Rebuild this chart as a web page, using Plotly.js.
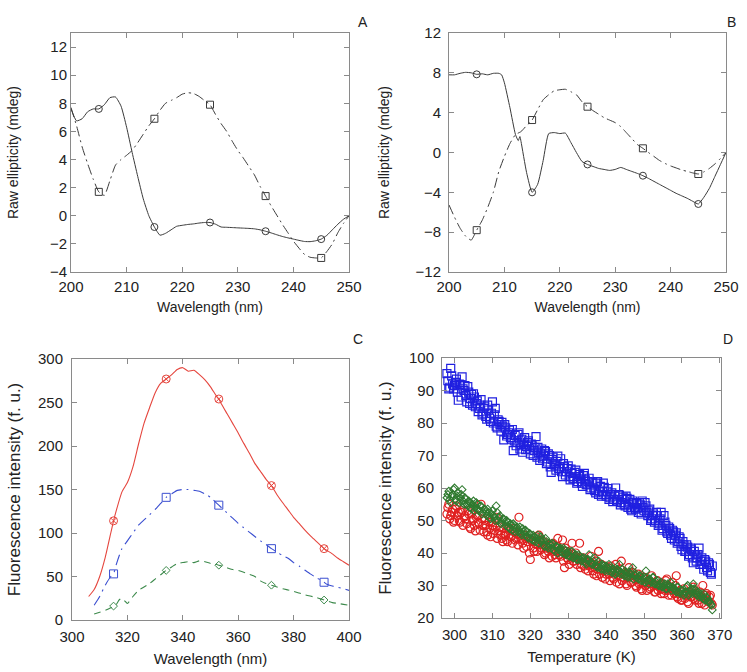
<!DOCTYPE html>
<html>
<head>
<meta charset="utf-8">
<script src="https://cdn.plot.ly/plotly-3.0.1.min.js"></script>
<style>html,body{margin:0;padding:0;background:#fff;}#chart{width:747px;height:672px;}</style>
</head>
<body>
<div id="chart"></div>
<script>
// ---------- Panel A (CD spectra) ----------
const wlA = [200,201,202,203,204,205,206,207,208,209,210,211,212,213,214,215,216,217,218,219,220,221,222,223,224,225,226,227,228,229,230,231,232,233,234,235,236,237,238,239,240,241,242,243,244,245,246,247,248,249,250];
const A_solid = [7.6,6.75,6.9,7.4,7.6,7.6,7.9,8.4,8.45,7.8,6.3,4.5,2.8,1.2,0.0,-0.8,-1.38,-1.25,-1.0,-0.75,-0.68,-0.62,-0.58,-0.52,-0.48,-0.48,-0.6,-0.8,-0.82,-0.84,-0.86,-0.88,-0.9,-0.93,-1.0,-1.1,-1.22,-1.35,-1.47,-1.57,-1.66,-1.75,-1.83,-1.84,-1.78,-1.66,-1.4,-1.0,-0.6,-0.25,0.0];
const A_dash = [7.7,6.4,4.9,3.7,2.6,1.7,1.45,2.5,3.6,4.0,4.3,4.65,5.2,5.8,6.4,6.9,7.5,8.0,8.2,8.4,8.65,8.75,8.7,8.5,8.2,7.9,7.2,6.55,6.0,5.3,4.65,4.1,3.5,2.9,2.1,1.4,0.7,0.05,-0.6,-1.2,-1.8,-2.3,-2.75,-2.95,-3.0,-3.0,-2.55,-2.0,-1.2,-0.55,0.0];
const markCD = [205,215,225,235,245];

// ---------- Panel B (CD spectra) ----------
const wlB_solid = [200,201,202,203,204,205,206,207,208,209,209.5,210,211,212,212.5,212.8,213,214,215,216,217,218,219,220,221,222,223,224,225,226,227,228,229,230,231,232,233,234,235,236,237,238,239,240,241,242,243,244,245,246,247,248,249,250];
const B_solid = [7.8,7.8,7.95,8.05,8.0,7.85,7.9,7.8,7.95,7.95,7.8,7.0,4.5,1.8,1.2,1.6,1.1,-2.0,-4.0,-3.2,-0.8,1.9,2.0,1.9,1.95,1.0,0.0,-0.9,-1.2,-1.4,-1.6,-1.7,-1.8,-1.7,-1.5,-1.7,-1.9,-2.1,-2.33,-2.6,-2.9,-3.2,-3.5,-3.8,-4.1,-4.35,-4.6,-4.9,-5.17,-4.5,-3.6,-2.4,-1.2,0.0];
const wlB_dash = [200,201,202,203,204,205,206,207,208,209,210,211,212,213,214,215,216,217,218,219,220,221,222,223,224,225,226,227,228,229,230,231,232,233,234,235,236,237,238,239,240,241,242,243,244,245,246,247,248,249,250];
const B_dash = [-5.27,-6.5,-7.6,-8.4,-8.8,-7.8,-6.8,-5.5,-4.0,-1.9,-0.4,0.9,1.8,2.1,2.7,3.26,4.3,5.3,5.8,6.2,6.3,6.35,6.1,5.8,5.1,4.6,4.2,3.85,3.5,3.25,3.0,2.6,2.0,1.4,0.8,0.42,0.0,-0.4,-0.8,-1.1,-1.35,-1.55,-1.75,-1.9,-2.05,-2.16,-1.95,-1.6,-1.15,-0.6,0.0];

// ---------- Panel C (emission spectra) ----------
const wlC_red = [306,308,310,312,314,315,316,318,320,322,324,326,328,330,332,334,336,338,340,342,344,346,348,350,352,353,354,356,358,360,362,364,366,368,370,372,374,376,378,380,382,384,386,388,390,391,392,394,396,398,400];
const C_red = [27,35,50,72,100,114,126,147,158,176,202,226,244,261,272,277,282,288,290,286,287,282,276,268,258,254,248,237,226,215,203,192,180,171,162,154.5,144,135,126.6,118,111,103.6,97,91,85,82,80,76,71,67,63];
const wlC_blue = [308,310,312,314,315,316,318,320,322,324,326,328,330,332,334,336,338,340,342,344,346,348,350,352,353,354,356,358,360,362,364,366,368,370,372,374,376,378,380,382,384,386,388,390,391,392,394,396,398,400];
const C_blue = [17,27,40,50,53,64,82,91,100,109,115,121,127,134,141,145,149,150,150,149,148,145,141,135,132,129,123,117,111,106,101,96,91,87,82,78,74,71,66,62,57.5,53,49,45.5,43.4,41,39,37.6,36,34];
const wlC_green = [308,310,312,314,315,316,317,318,319,320,322,324,326,328,330,332,334,336,338,340,342,344,346,348,350,352,353,354,356,358,360,362,364,366,368,370,372,374,376,378,380,382,384,386,388,390,391,392,394,396,398,400];
const C_green = [7,9,11,14,16,18,23,25,22,19,27,34,38,42,47,52,57,61,65,66,67,66,68,67,65,64,63,62,60,58,57,55,52.5,50,45,42,40,38,36,34.5,33,31,29,27.5,26,24,23,22,20,19,18,17];
const markC = [315,334,353,372,391];

// ---------- Panel D (thermal scans) ----------
const tempD = [
298,298.5,299,299.5,300,300.5,301,301.5,302,302.5,
303,303.5,304,304.5,305,305.5,306,306.5,307,307.5,
308,308.5,309,309.5,310,310.5,311,311.5,312,312.5,
313,313.5,314,314.5,315,315.5,316,316.5,317,317.5,
318,318.5,319,319.5,320,320.5,321,321.5,322,322.5,
323,323.5,324,324.5,325,325.5,326,326.5,327,327.5,
328,328.5,329,329.5,330,330.5,331,331.5,332,332.5,
333,333.5,334,334.5,335,335.5,336,336.5,337,337.5,
338,338.5,339,339.5,340,340.5,341,341.5,342,342.5,
343,343.5,344,344.5,345,345.5,346,346.5,347,347.5,
348,348.5,349,349.5,350,350.5,351,351.5,352,352.5,
353,353.5,354,354.5,355,355.5,356,356.5,357,357.5,
358,358.5,359,359.5,360,360.5,361,361.5,362,362.5,
363,363.5,364,364.5,365,365.5,366,366.5,367,367.5,
368];
const tempD2 = [
298.25,298.75,299.25,299.75,300.25,300.75,301.25,301.75,302.25,302.75,
303.25,303.75,304.25,304.75,305.25,305.75,306.25,306.75,307.25,307.75,
308.25,308.75,309.25,309.75,310.25,310.75,311.25,311.75,312.25,312.75,
313.25,313.75,314.25,314.75,315.25,315.75,316.25,316.75,317.25,317.75,
318.25,318.75,319.25,319.75,320.25,320.75,321.25,321.75,322.25,322.75,
323.25,323.75,324.25,324.75,325.25,325.75,326.25,326.75,327.25,327.75,
328.25,328.75,329.25,329.75,330.25,330.75,331.25,331.75,332.25,332.75,
333.25,333.75,334.25,334.75,335.25,335.75,336.25,336.75,337.25,337.75,
338.25,338.75,339.25,339.75,340.25,340.75,341.25,341.75,342.25,342.75,
343.25,343.75,344.25,344.75,345.25,345.75,346.25,346.75,347.25,347.75,
348.25,348.75,349.25,349.75,350.25,350.75,351.25,351.75,352.25,352.75,
353.25,353.75,354.25,354.75,355.25,355.75,356.25,356.75,357.25,357.75,
358.25,358.75,359.25,359.75,360.25,360.75,361.25,361.75,362.25,362.75,
363.25,363.75,364.25,364.75,365.25,365.75,366.25,366.75,367.25,367.75];
const D_blue = [
95.2,90.5,96.8,92.0,91.5,93.5,87.0,91.8,94.2,90.0,
88.5,91.2,86.0,88.8,89.0,85.0,86.8,84.5,87.2,83.0,
85.0,81.2,84.0,80.5,86.5,82.5,79.0,81.0,79.5,80.2,
74.8,78.5,76.5,77.8,75.0,71.5,76.2,74.0,77.0,73.5,
71.0,75.5,72.8,74.5,70.5,73.0,71.5,75.8,72.5,68.5,
72.0,69.8,71.2,68.0,70.0,64.8,69.5,67.0,68.2,66.0,
69.0,63.5,66.5,65.0,66.8,62.5,64.5,63.0,65.5,62.0,
64.2,61.5,63.8,62.5,61.0,63.0,60.0,61.8,59.2,61.5,
58.0,60.5,58.8,60.2,57.5,59.8,57.0,58.5,56.5,60.0,
56.0,57.8,55.5,57.2,54.5,56.8,55.0,53.5,56.0,54.0,
55.2,52.5,54.8,56.0,53.0,54.5,51.5,53.5,50.5,52.0,
50.0,51.5,49.0,52.5,47.5,49.5,46.5,48.0,45.5,47.0,
44.0,46.2,43.5,44.5,41.0,42.5,40.5,41.8,39.5,41.0,
37.0,39.5,38.5,41.5,37.5,36.5,38.0,35.5,37.0,34.0,
36.0];
const D_blue2 = [
93.0,91.0,94.5,90.5,92.5,89.5,92.0,88.0,90.5,91.5,
86.5,89.5,87.5,85.5,88.0,86.0,83.5,85.5,82.5,84.5,
82.0,85.5,81.5,83.0,80.0,84.5,78.5,80.5,77.5,79.0,
79.5,76.0,77.0,75.5,78.0,74.5,73.0,76.5,72.0,75.0,
73.5,71.8,74.0,72.0,73.5,70.0,72.5,69.5,71.0,70.5,
69.0,71.5,67.5,70.5,66.5,68.8,67.5,65.5,69.8,66.5,
65.0,67.5,64.0,66.0,63.5,65.8,62.8,64.8,61.5,63.5,
62.8,60.5,64.5,61.0,62.0,59.5,61.5,60.0,58.5,62.0,
59.0,57.5,61.5,58.0,59.0,56.5,58.0,55.8,57.5,56.0,
58.0,54.8,56.5,55.0,57.5,54.0,56.5,53.0,55.5,53.5,
53.8,55.5,52.0,54.0,55.5,52.5,53.0,50.0,51.5,49.5,
52.5,48.5,50.5,47.0,51.5,48.5,46.0,47.5,44.5,46.5,
45.5,43.0,45.0,42.0,43.5,40.5,42.5,39.0,41.5,38.5,
40.5,37.5,39.5,36.5,38.5,35.0,37.5,34.5,36.5,33.5];
const D_red = [
52.0,55.0,51.5,53.5,50.0,54.5,52.5,49.5,53.0,51.0,
50.5,53.0,48.0,52.0,50.5,46.8,51.5,49.0,55.0,48.5,
50.0,46.5,49.5,45.0,48.5,47.0,51.0,46.0,48.0,44.5,
47.5,45.5,43.5,46.8,45.0,47.5,44.0,45.8,51.0,44.5,
43.0,45.5,42.0,44.5,38.0,43.5,40.5,45.0,42.5,44.0,
41.5,43.5,40.0,42.5,38.5,41.0,43.0,39.5,42.0,40.5,
39.0,44.0,35.5,40.5,38.0,39.5,43.0,37.5,40.0,38.5,
43.0,36.5,38.5,35.0,37.0,36.0,39.0,34.5,36.5,33.0,
40.5,35.0,32.5,36.0,33.5,35.5,31.5,34.0,32.0,36.5,
34.0,30.5,37.5,32.5,33.5,30.0,35.5,31.0,34.0,32.0,
29.5,33.5,31.0,28.5,32.5,30.0,31.5,29.0,33.0,30.5,
28.0,31.5,29.5,27.5,30.5,28.5,32.0,27.0,29.5,31.0,
27.5,33.0,26.0,28.5,25.5,29.0,27.0,25.0,28.0,26.5,
29.5,25.5,27.0,24.5,26.5,30.0,24.0,27.5,25.0,27.0,
24.0];
const D_red2 = [
54.0,50.5,52.5,49.5,53.5,51.5,50.0,52.5,48.5,51.5,
49.0,52.0,47.5,50.0,48.5,51.0,49.5,47.0,50.5,46.5,
48.5,45.5,47.5,49.5,46.0,48.0,44.5,47.0,45.5,43.5,
46.0,44.0,47.5,45.0,43.0,46.5,44.5,42.5,45.5,44.0,
41.5,44.5,43.5,40.0,44.0,41.5,43.0,40.5,45.5,41.0,
42.5,39.5,41.5,40.5,42.5,39.0,40.5,38.5,44.5,39.5,
40.5,37.5,41.5,38.5,36.5,40.0,37.5,39.0,36.5,38.0,
35.5,38.0,36.0,37.5,34.5,36.5,35.5,33.5,37.5,35.0,
33.5,36.5,34.5,32.0,35.0,33.5,36.0,32.5,34.5,31.0,
33.0,35.0,31.5,33.5,30.5,32.5,34.0,31.0,33.0,30.0,
32.0,30.5,29.0,32.5,30.0,28.5,31.5,29.5,30.5,28.0,
30.0,28.5,30.5,29.0,27.5,31.5,28.5,29.5,27.0,28.5,
30.0,26.5,27.5,25.5,28.0,26.0,27.5,24.5,26.5,28.5,
26.0,27.5,25.5,28.0,24.5,26.0,27.0,25.5,26.5,24.5];
const D_green = [
57.0,59.0,55.5,58.0,60.0,56.0,58.5,57.0,59.5,55.0,
56.5,54.5,55.5,53.5,56.0,54.0,55.0,53.0,54.5,52.5,
53.5,51.5,52.5,50.5,53.0,51.0,54.5,50.0,51.5,49.5,
50.5,48.5,49.5,47.5,48.5,49.0,46.5,48.0,47.0,46.0,
47.5,45.5,46.5,44.5,45.8,44.0,45.0,43.5,45.5,44.0,
43.5,42.5,44.5,42.0,43.0,41.5,42.8,40.5,42.0,41.0,
41.5,40.0,41.0,39.5,40.5,39.0,40.5,38.5,39.5,38.0,
39.0,37.5,38.5,37.0,38.0,39.5,37.0,36.5,38.5,36.0,
37.5,35.5,36.5,35.0,36.0,34.5,35.5,34.0,35.0,33.5,
35.0,36.5,34.0,33.5,34.5,33.0,34.0,32.5,35.5,33.0,
33.5,32.0,33.0,31.5,32.5,34.5,31.5,32.0,31.0,32.5,
30.5,31.5,30.0,31.0,29.5,30.5,29.0,30.0,31.0,29.5,
29.0,28.0,29.5,27.5,28.5,27.0,28.0,30.0,27.5,29.0,
30.5,28.5,27.0,26.5,27.5,26.0,25.5,26.5,25.0,24.5,
22.5];
const D_green2 = [
58.0,56.5,57.5,59.5,56.5,57.5,55.5,58.0,56.0,57.0,
55.0,56.0,54.0,55.0,53.0,55.5,53.5,54.5,52.0,53.5,
52.5,53.5,51.0,52.0,51.5,50.0,52.5,51.0,49.0,50.5,
49.5,50.0,48.0,49.0,47.0,48.5,47.5,46.5,48.0,45.5,
46.5,47.0,45.0,46.0,44.5,45.5,43.5,44.5,43.0,45.0,
44.0,42.0,43.5,41.5,42.5,43.0,41.0,42.0,40.0,41.5,
40.5,41.5,39.5,40.0,39.0,40.5,38.5,39.0,38.0,39.5,
38.0,38.5,37.5,36.5,38.0,37.0,36.5,37.5,36.0,35.5,
36.5,35.0,36.0,34.5,35.5,36.5,34.5,35.0,33.5,34.0,
34.5,33.5,35.0,33.0,34.0,32.5,33.5,34.5,32.0,33.0,
32.5,33.0,31.5,32.0,31.0,32.5,30.5,31.5,32.5,30.5,
31.0,30.0,30.5,29.5,30.0,29.0,30.5,29.5,28.5,29.0,
28.5,29.5,28.0,28.5,27.5,28.0,29.5,27.0,28.5,27.5,
29.0,27.5,28.0,27.0,26.5,27.5,25.5,26.0,25.0,24.0];

// ---------- helpers ----------
function pick(xs, ys, marks) {
  const out = [];
  marks.forEach(m => { const i = xs.indexOf(m); if (i >= 0) out.push(ys[i]); });
  return out;
}
const FONT = 'Liberation Sans, Arial, sans-serif';
const TXT = '#222222';
const FRAME = '#8a8a8a';

function lineTrace(x, y, xa, ya, color, dash, width) {
  return {x: x, y: y, xaxis: xa, yaxis: ya, type: 'scatter', mode: 'lines',
    line: {color: color, dash: dash, width: width, shape: 'spline', smoothing: 0.5},
    hoverinfo: 'skip', showlegend: false};
}
function markTrace(xs, ys, marks, xa, ya, color, symbol, size) {
  return {x: marks, y: pick(xs, ys, marks), xaxis: xa, yaxis: ya, type: 'scatter', mode: 'markers',
    marker: {symbol: symbol, size: size, color: color, line: {color: color, width: 1}},
    hoverinfo: 'skip', showlegend: false};
}
function cloud(xa, ya, xb, yb, color, symbol, size, lw) {
  return {x: xa.concat(xb), y: ya.concat(yb), xaxis: 'x4', yaxis: 'y4', type: 'scatter', mode: 'markers',
    marker: {symbol: symbol, size: size, color: color, line: {color: color, width: lw}},
    hoverinfo: 'skip', showlegend: false};
}

const cdCol = '#3a3a3a';
const traces = [
  lineTrace(wlA, A_solid, 'x', 'y', cdCol, 'solid', 1),
  lineTrace(wlA, A_dash, 'x', 'y', cdCol, '10px,4px,2px,4px', 1),
  markTrace(wlA, A_solid, markCD, 'x', 'y', cdCol, 'circle-open', 7),
  markTrace(wlA, A_dash, markCD, 'x', 'y', cdCol, 'square-open', 7),

  lineTrace(wlB_solid, B_solid, 'x2', 'y2', cdCol, 'solid', 1),
  lineTrace(wlB_dash, B_dash, 'x2', 'y2', cdCol, '10px,4px,2px,4px', 1),
  markTrace(wlB_solid, B_solid, markCD, 'x2', 'y2', cdCol, 'circle-open', 7),
  markTrace(wlB_dash, B_dash, markCD, 'x2', 'y2', cdCol, 'square-open', 7),

  lineTrace(wlC_red, C_red, 'x3', 'y3', '#e5463e', 'solid', 1.1),
  lineTrace(wlC_blue, C_blue, 'x3', 'y3', '#3b4fd0', '11px,5px,2px,5px', 1.1),
  lineTrace(wlC_green, C_green, 'x3', 'y3', '#3d8a4c', '7px,5px', 1.1),
  markTrace(wlC_red, C_red, markC, 'x3', 'y3', '#e5463e', 'circle-x-open', 8),
  markTrace(wlC_blue, C_blue, markC, 'x3', 'y3', '#3b4fd0', 'square-open', 8),
  markTrace(wlC_green, C_green, markC, 'x3', 'y3', '#3d8a4c', 'diamond-open', 6),

  cloud(tempD, D_blue, tempD2, D_blue2, '#2020e0', 'square-open', 8, 1.2),
  cloud(tempD, D_red, tempD2, D_red2, '#e02020', 'circle-open', 8, 1.2),
  cloud(tempD, D_green, tempD2, D_green2, '#2f7a2f', 'diamond-open', 6, 1.1)
];

function ax(extra) {
  return Object.assign({
    showline: true, linecolor: FRAME, linewidth: 1, mirror: 'ticks',
    ticks: 'inside', ticklen: 5, tickcolor: FRAME, tickwidth: 1,
    showgrid: false, zeroline: false, fixedrange: true,
    tickfont: {family: FONT, size: 15, color: TXT}
  }, extra);
}
function ttl(text, size, standoff) {
  return {text: text, font: {family: FONT, size: size, color: TXT}, standoff: standoff};
}

const W = 747, H = 672;
const layout = {
  width: W, height: H,
  margin: {l: 0, r: 0, t: 0, b: 0},
  paper_bgcolor: '#ffffff', plot_bgcolor: '#ffffff',
  showlegend: false,
  xaxis: ax({domain: [71/W, 349/W], anchor: 'y', range: [200, 250], tickvals: [200,210,220,230,240,250],
    ticklabelstandoff: 1, title: ttl('Wavelength (nm)', 14, 8)}),
  yaxis: ax({domain: [1-272/H, 1-33/H], anchor: 'x', range: [-4, 13], tickvals: [-4,-2,0,2,4,6,8,10,12],
    title: ttl('Raw ellipticity (mdeg)', 14, 27)}),
  xaxis2: ax({domain: [449/W, 726/W], anchor: 'y2', range: [200, 250], tickvals: [200,210,220,230,240,250],
    ticklabelstandoff: 1, title: ttl('Wavelength (nm)', 14, 8)}),
  yaxis2: ax({domain: [1-272/H, 1-33/H], anchor: 'x2', range: [-12, 12], tickvals: [-12,-8,-4,0,4,8,12],
    ticklabelstandoff: 4, title: ttl('Raw ellipticity (mdeg)', 14, 22)}),
  xaxis3: ax({domain: [72/W, 349/W], anchor: 'y3', range: [300, 400], tickvals: [300,320,340,360,380,400],
    ticklabelstandoff: 3, title: ttl('Wavelength (nm)', 15, 9)}),
  yaxis3: ax({domain: [1-620/H, 1-359/H], anchor: 'x3', range: [0, 300], tickvals: [0,50,100,150,200,250,300],
    ticklabelstandoff: 5, title: ttl('Fluorescence intensity (f. u.)', 17, 13)}),
  xaxis4: ax({domain: [442/W, 721/W], anchor: 'y4', range: [296.7, 370.3], tickvals: [300,310,320,330,340,350,360,370],
    ticklabelstandoff: 3, title: ttl('Temperature (K)', 15, 9)}),
  yaxis4: ax({domain: [1-618/H, 1-358/H], anchor: 'x4', range: [20, 100], tickvals: [20,30,40,50,60,70,80,90,100],
    ticklabelstandoff: 4, title: ttl('Fluorescence intensity (f. u.)', 17, 13)}),
  annotations: [
    {text: 'A', x: 363/W, y: 1-12/H, xref: 'paper', yref: 'paper', showarrow: false, font: {family: FONT, size: 14, color: TXT}},
    {text: 'B', x: 738/W, y: 1-12/H, xref: 'paper', yref: 'paper', showarrow: false, font: {family: FONT, size: 14, color: TXT}},
    {text: 'C', x: 358/W, y: 1-339/H, xref: 'paper', yref: 'paper', showarrow: false, font: {family: FONT, size: 14, color: TXT}},
    {text: 'D', x: 735/W, y: 1-339/H, xref: 'paper', yref: 'paper', showarrow: false, font: {family: FONT, size: 14, color: TXT}}
  ]
};

Plotly.newPlot('chart', traces, layout, {displayModeBar: false, staticPlot: true});
</script>
</body>
</html>
